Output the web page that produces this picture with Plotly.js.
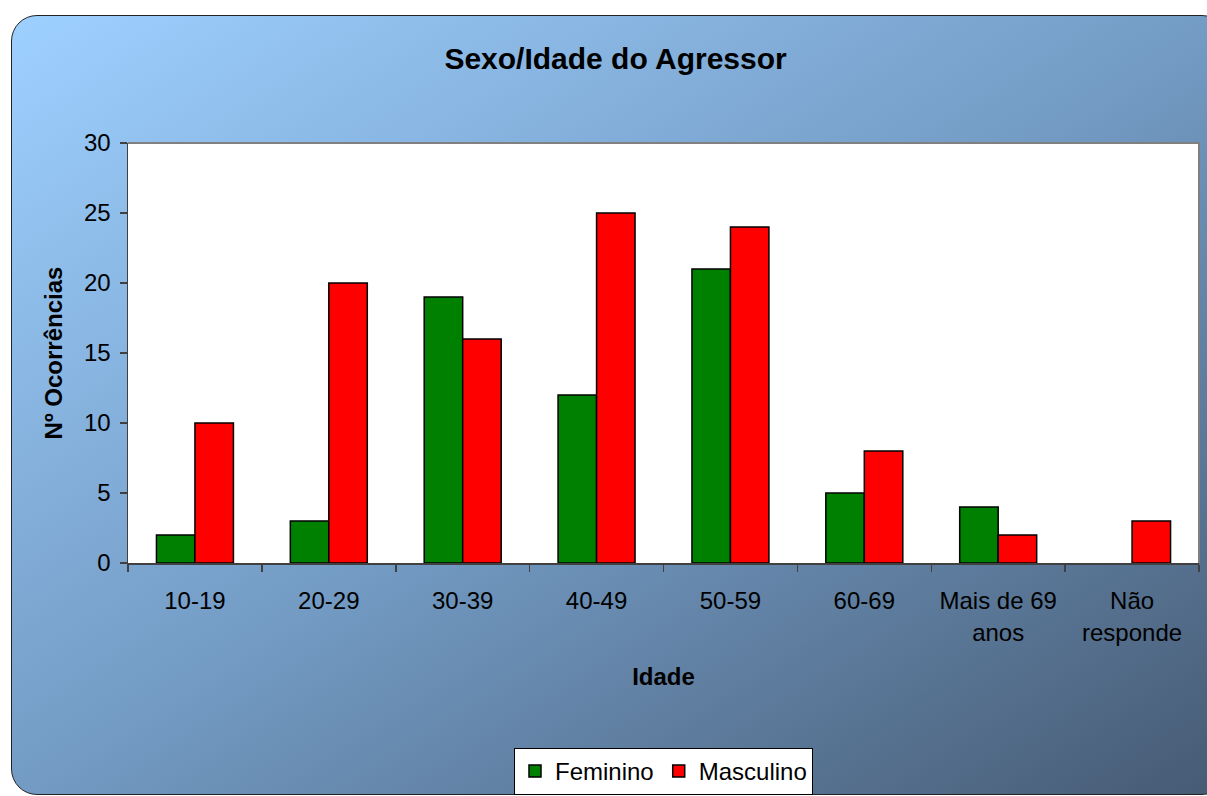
<!DOCTYPE html>
<html>
<head>
<meta charset="utf-8">
<script src="https://cdn.plot.ly/plotly-3.0.1.min.js"></script>
<style>
  html, body { margin: 0; padding: 0; width: 1207px; height: 796px; overflow: hidden; background: #ffffff; }
  #bg { position: absolute; left: 11px; top: 15px; width: 1215px; height: 778px;
        border: 1.5px solid #222; border-radius: 26px;
        background: linear-gradient(to bottom right, #9ed0ff 0%, #739bc4 50%, #465a73 100%); }
  #chart { position: absolute; left: 0; top: 0; width: 1207px; height: 796px; }
</style>
</head>
<body>
<div id="bg"></div>
<div id="chart"></div>
<script>
const categories = ["10-19", "20-29", "30-39", "40-49", "50-59", "60-69", "Mais de 69<br>anos", "Não<br>responde"];
const feminino = [2, 3, 19, 12, 21, 5, 4, null];
const masculino = [10, 20, 16, 25, 24, 8, 2, 3];
const yTicks = [0, 5, 10, 15, 20, 25, 30];

const FONT = "Liberation Sans, Arial, sans-serif";

const traces = [
  { type: "bar", name: "Feminino", x: categories, y: feminino,
    marker: { color: "#008000", line: { color: "#000000", width: 1.5 } } },
  { type: "bar", name: "Masculino", x: categories, y: masculino,
    marker: { color: "#ff0000", line: { color: "#000000", width: 1.5 } } }
];

const layout = {
  width: 1207, height: 796,
  paper_bgcolor: "rgba(0,0,0,0)",
  plot_bgcolor: "#ffffff",
  margin: { l: 128, r: 8, t: 143, b: 233, pad: 0 },
  font: { family: FONT, size: 24, color: "#000000" },
  title: { text: "<b>Sexo/Idade do Agressor</b>", x: 0.51, xref: "container", xanchor: "center",
           y: 1 - 58/796, yref: "container", yanchor: "middle",
           font: { family: FONT, size: 30, color: "#000000" } },
  barmode: "group",
  bargap: 0.425,
  bargroupgap: 0,
  showlegend: true,
  legend: { orientation: "h", x: 0.5, xanchor: "center",
            y: (796 - 748) / 796, yref: "container", yanchor: "top",
            bgcolor: "#ffffff", bordercolor: "#000000", borderwidth: 1,
            font: { family: FONT, size: 24, color: "#000000" },
            itemwidth: 30, tracegroupgap: 0 },
  xaxis: {
    type: "category",
    automargin: false,
    showline: true, linecolor: "#404040", linewidth: 1.5,
    ticks: "outside", ticklen: 7, tickcolor: "#404040", tickwidth: 1.5,
    tickson: "boundaries",
    ticklabelstandoff: 16,
    showgrid: false, zeroline: false,
    tickfont: { family: FONT, size: 24, color: "#000000" },
    title: { text: "<b>Idade</b>", font: { family: FONT, size: 24, color: "#000000" }, standoff: 23 }
  },
  yaxis: {
    range: [0, 30],
    automargin: false,
    tickvals: yTicks,
    ticktext: yTicks.map(String),
    showline: true, linecolor: "#404040", linewidth: 1.5,
    ticks: "outside", ticklen: 7, tickcolor: "#404040", tickwidth: 1.5,
    ticklabelstandoff: 4,
    showgrid: false, zeroline: false,
    tickfont: { family: FONT, size: 24, color: "#000000" },
    title: { text: "<b>Nº Ocorrências</b>", font: { family: FONT, size: 24, color: "#000000" }, standoff: 14 }
  },
  shapes: [
    { type: "line", xref: "paper", yref: "paper", x0: 0, x1: 1, y0: 1, y1: 1,
      line: { color: "#808080", width: 2 } },
    { type: "line", xref: "paper", yref: "paper", x0: 1, x1: 1, y0: 0, y1: 1,
      line: { color: "#808080", width: 2 } }
  ]
};

Plotly.newPlot("chart", traces, layout, { displayModeBar: false, staticPlot: true });
</script>
</body>
</html>
